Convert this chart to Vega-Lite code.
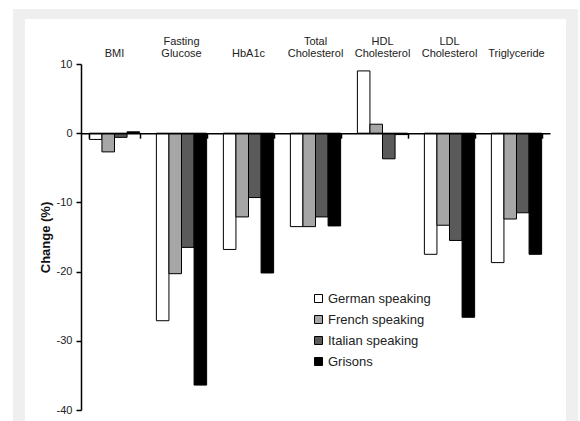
{
  "$schema": "https://vega.github.io/schema/vega-lite/v6.json",
  "width": 469,
  "height": 346,
  "autosize": {"type": "none"},
  "padding": {"left": 81, "top": 64, "right": 30, "bottom": 11},
  "background": "white",
  "config": {"view": {"stroke": null}, "font": "Liberation Sans", "axis": {"zindex": 2}},
  "datasets": {
    "bars": [
      {"measure": "BMI", "group": "German speaking", "change": -0.9},
      {"measure": "BMI", "group": "French speaking", "change": -2.7},
      {"measure": "BMI", "group": "Italian speaking", "change": -0.6},
      {"measure": "BMI", "group": "Grisons", "change": 0.2},
      {"measure": "Fasting Glucose", "group": "German speaking", "change": -27.1},
      {"measure": "Fasting Glucose", "group": "French speaking", "change": -20.3},
      {"measure": "Fasting Glucose", "group": "Italian speaking", "change": -16.5},
      {"measure": "Fasting Glucose", "group": "Grisons", "change": -36.4},
      {"measure": "HbA1c", "group": "German speaking", "change": -16.8},
      {"measure": "HbA1c", "group": "French speaking", "change": -12.1},
      {"measure": "HbA1c", "group": "Italian speaking", "change": -9.3},
      {"measure": "HbA1c", "group": "Grisons", "change": -20.2},
      {"measure": "Total Cholesterol", "group": "German speaking", "change": -13.5},
      {"measure": "Total Cholesterol", "group": "French speaking", "change": -13.5},
      {"measure": "Total Cholesterol", "group": "Italian speaking", "change": -12.1},
      {"measure": "Total Cholesterol", "group": "Grisons", "change": -13.4},
      {"measure": "HDL Cholesterol", "group": "German speaking", "change": 9.0},
      {"measure": "HDL Cholesterol", "group": "French speaking", "change": 1.3},
      {"measure": "HDL Cholesterol", "group": "Italian speaking", "change": -3.7},
      {"measure": "HDL Cholesterol", "group": "Grisons", "change": -0.2},
      {"measure": "LDL Cholesterol", "group": "German speaking", "change": -17.5},
      {"measure": "LDL Cholesterol", "group": "French speaking", "change": -13.3},
      {"measure": "LDL Cholesterol", "group": "Italian speaking", "change": -15.5},
      {"measure": "LDL Cholesterol", "group": "Grisons", "change": -26.6},
      {"measure": "Triglyceride", "group": "German speaking", "change": -18.7},
      {"measure": "Triglyceride", "group": "French speaking", "change": -12.4},
      {"measure": "Triglyceride", "group": "Italian speaking", "change": -11.5},
      {"measure": "Triglyceride", "group": "Grisons", "change": -17.5}
    ]
  },
  "resolve": {"scale": {"x": "independent"}},
  "layer": [
    {
      "data": {"values": [{}]},
      "mark": {"type": "rect", "color": "#efefef"},
      "encoding": {
        "x": {"datum": -0.145, "type": "quantitative", "scale": {"domain": [0, 1], "nice": false}, "axis": null},
        "x2": {"datum": 1.06},
        "y": {"datum": 17.95, "type": "quantitative", "title": "Change (%)"},
        "y2": {"datum": -45}
      }
    },
    {
      "data": {"values": [{}]},
      "mark": {"type": "rect", "color": "#ffffff"},
      "encoding": {
        "x": {"datum": -0.1194, "type": "quantitative", "scale": {"domain": [0, 1], "nice": false}, "axis": null},
        "x2": {"datum": 1.034},
        "y": {"datum": 16.5, "type": "quantitative", "title": "Change (%)"},
        "y2": {"datum": -45}
      }
    },
    {
      "data": {"name": "bars"},
      "mark": {"type": "bar", "stroke": "black", "strokeWidth": 1},
      "encoding": {
        "x": {
          "field": "measure", "type": "nominal",
          "sort": ["BMI", "Fasting Glucose", "HbA1c", "Total Cholesterol", "HDL Cholesterol", "LDL Cholesterol", "Triglyceride"],
          "scale": {"paddingInner": 0.25, "paddingOuter": 0.125},
          "axis": {"orient": "top", "zindex": 2, "title": null, "domain": false, "ticks": false, "tickSize": 0, "labelAngle": 0, "labelFontSize": 11, "labelColor": "#222", "labelPadding": 18, "labelLineHeight": 12.5, "labelExpr": "length(split(datum.value, ' ')) > 1 ? split(datum.value, ' ') : ['', datum.value]"}
        },
        "xOffset": {
          "field": "group", "type": "nominal",
          "sort": ["German speaking", "French speaking", "Italian speaking", "Grisons"],
          "scale": {"paddingInner": 0, "paddingOuter": 0}
        },
        "y": {
          "field": "change", "type": "quantitative",
          "scale": {"domain": [-40, 10], "nice": false},
          "title": "Change (%)",
          "axis": {"zindex": 2, "values": [-40, -30, -20, -10, 0, 10], "labelExpr": "toString(datum.value)", "grid": false, "domainColor": "black", "domainWidth": 1.5, "tickColor": "black", "tickSize": 5, "tickWidth": 1.5, "labelFontSize": 11, "labelColor": "#222", "labelPadding": 4, "titleFontSize": 13, "titleFontWeight": "bold", "titleColor": "#111", "titlePadding": 4}
        },
        "color": {
          "field": "group", "type": "nominal",
          "sort": ["German speaking", "French speaking", "Italian speaking", "Grisons"],
          "scale": {"domain": ["German speaking", "French speaking", "Italian speaking", "Grisons"], "range": ["#ffffff", "#a6a6a6", "#5a5a5a", "#000000"]},
          "legend": {"orient": "none", "legendX": 231, "legendY": 228, "title": null, "symbolType": "square", "symbolSize": 64, "symbolStrokeColor": "black", "symbolStrokeWidth": 1, "labelFontSize": 13, "labelColor": "#222", "rowPadding": 7, "labelOffset": 3, "padding": 0}
        }
      }
    },
    {
      "data": {"name": "bars"},
      "mark": {"type": "point", "opacity": 0},
      "encoding": {
        "x": {
          "field": "measure", "type": "nominal",
          "sort": ["BMI", "Fasting Glucose", "HbA1c", "Total Cholesterol", "HDL Cholesterol", "LDL Cholesterol", "Triglyceride"],
          "scale": {"paddingInner": 0.25, "paddingOuter": 0.125},
          "axis": {"orient": "bottom", "zindex": 2, "offset": -276.8, "title": null, "labels": false, "grid": false, "domainColor": "black", "domainWidth": 1.5, "ticks": true, "tickBand": "extent", "tickSize": 5, "tickColor": "black", "tickWidth": 1.5}
        },
        "y": {"datum": 0, "type": "quantitative", "title": "Change (%)"}
      }
    }
  ]
}
